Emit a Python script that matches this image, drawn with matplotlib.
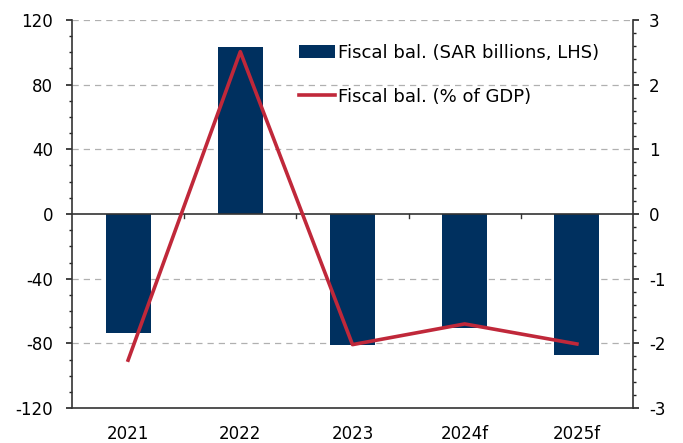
import matplotlib
matplotlib.use("Agg")
import matplotlib.pyplot as plt
import numpy as np
from matplotlib.ticker import MultipleLocator

plt.rcParams['font.family'] = ['DejaVu Sans']
plt.rcParams['axes.unicode_minus'] = False

categories = ["2021", "2022", "2023", "2024f", "2025f"]
fiscal_sar = [-73.4, 103.5, -80.8, -70.5, -87.5]
fiscal_gdp = [-2.26, 2.51, -2.02, -1.70, -2.01]

bar_color = "#00305F"
line_color = "#C0283A"

fig = plt.figure(figsize=(6.83, 4.43), dpi=100)
ax = fig.add_axes([72/683, 1-408/443, (633-72)/683, (408-20)/443])
x = np.arange(len(categories))

ax.bar(x, fiscal_sar, width=0.4, color=bar_color, label="Fiscal bal. (SAR billions, LHS)", zorder=2)
ax.set_xlim(-0.5, 4.5)
ax.set_ylim(-120, 120)
ax.yaxis.set_major_locator(MultipleLocator(40))
ax.yaxis.set_minor_locator(MultipleLocator(10))
for v in [-80, -40, 40, 80, 120]:
    ax.axhline(v, color="#b0b0b0", lw=0.9, ls=(0, (5, 4)), zorder=0)
ax.axhline(0, color="#333333", lw=1.2, zorder=3)
# small ticks on zero line at category boundaries
for b in [0.5, 1.5, 2.5, 3.5]:
    ax.plot([b, b], [0, -2.2], color="#333333", lw=1.0, zorder=3)

ax.set_xticks(x)
ax.set_xticklabels(categories, fontsize=12)
ax.tick_params(axis='x', length=0, pad=12)
ax.tick_params(axis='y', which='major', length=4.5, width=1.2, labelsize=12, colors="#222222", pad=9)
ax.tick_params(axis='y', which='minor', length=2.5, width=1.0, colors="#222222")
ax.tick_params(axis='y', labelcolor='black')
ax.spines['top'].set_visible(False)
ax.spines['right'].set_visible(False)
for s in ['left', 'bottom']:
    ax.spines[s].set_color("#333333")
    ax.spines[s].set_linewidth(1.2)

ax2 = ax.twinx()
ax2.plot(x, fiscal_gdp, color=line_color, lw=2.6, label="Fiscal bal. (% of GDP)", zorder=4)
ax2.set_ylim(-3, 3)
ax2.yaxis.set_major_locator(MultipleLocator(1))
ax2.yaxis.set_minor_locator(MultipleLocator(0.2))
ax2.tick_params(axis='y', which='major', length=4.5, width=1.2, labelsize=12, colors="#222222",
                labelcolor='black', pad=7)
ax2.tick_params(axis='y', which='minor', length=2.5, width=1.0, colors="#222222")
for s in ['top', 'left', 'bottom']:
    ax2.spines[s].set_visible(False)
ax2.spines['right'].set_color("#333333")
ax2.spines['right'].set_linewidth(1.2)

h1, l1 = ax.get_legend_handles_labels()
h2, l2 = ax2.get_legend_handles_labels()
leg = ax2.legend(h1 + h2, l1 + l2, loc='upper left', bbox_to_anchor=(0.392, 0.958),
                 frameon=False, fontsize=13, handlelength=2.0, handletextpad=0.15,
                 labelspacing=1.45, borderaxespad=0)

fig.savefig("out.png", dpi=100)
